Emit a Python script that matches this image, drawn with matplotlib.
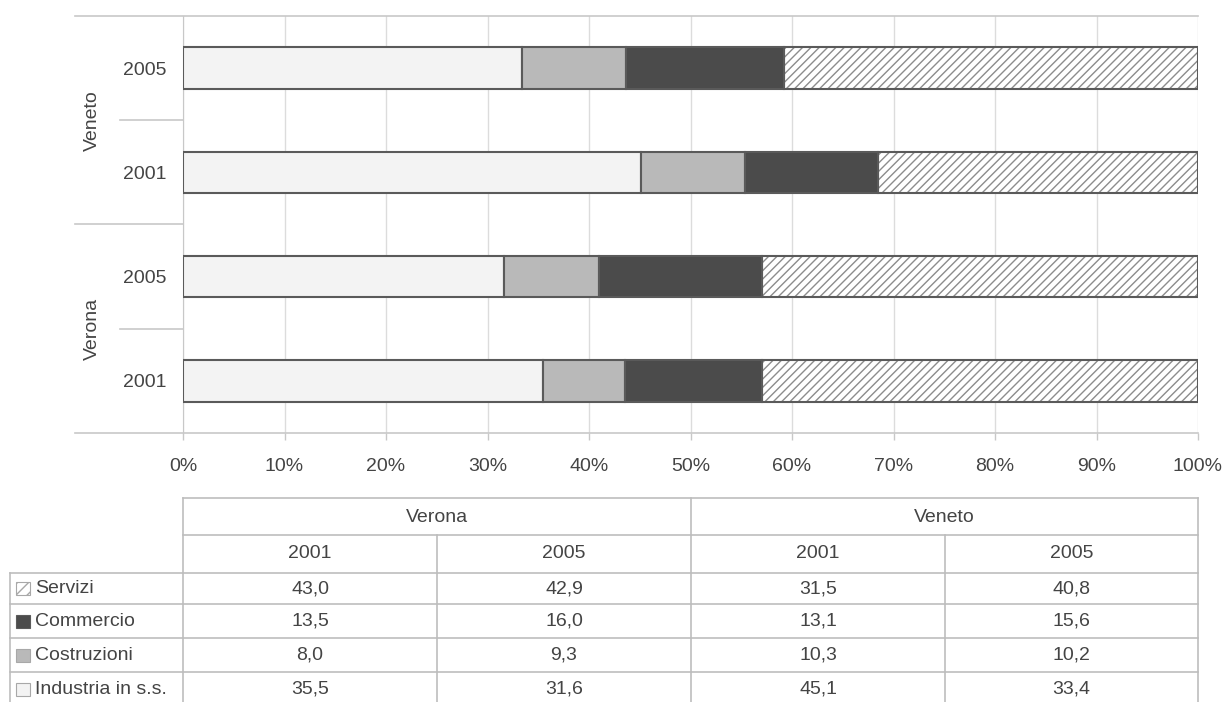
import matplotlib
matplotlib.use("Agg")
import matplotlib.pyplot as plt

plt.rcParams["font.family"] = ["Liberation Sans", "DejaVu Sans"]
plt.rcParams["hatch.linewidth"] = 1.0

W, H = 1231, 702

# bars from bottom to top
places = ["Verona", "Veneto"]
years = ["2001", "2005", "2001", "2005"]
sectors = ["Industria in s.s.", "Costruzioni", "Commercio", "Servizi"]
industria = [35.5, 31.6, 45.1, 33.4]
costruzioni = [8.0, 9.3, 10.3, 10.2]
commercio = [13.5, 16.0, 13.1, 15.6]
servizi = [43.0, 42.9, 31.5, 40.8]
x_ticks = [0, 10, 20, 30, 40, 50, 60, 70, 80, 90, 100]

series = [industria, costruzioni, commercio, servizi]
fills = ["#f3f3f3", "#b9b9b9", "#4b4b4b", "white"]
hatches = [None, None, None, "////"]
TXT = "#444444"
GRID = "#dcdcdc"
EDGE = "#5a5a5a"
FS = 14

# 100% stacked: each bar scaled to its own total
totals = [sum(col) for col in zip(*series)]
shares = [[v / t * 100 for v, t in zip(vals, totals)] for vals in series]

fig = plt.figure(figsize=(W / 100, H / 100), dpi=100)
ax = fig.add_axes([183 / W, 1 - 433 / H, (1198 - 183) / W, (433 - 16) / H])

pos = list(range(len(years)))
left = [0.0] * len(years)
for vals, fc, hatch in zip(shares, fills, hatches):
    if hatch:
        ax.barh(pos, vals, left=left, height=0.4, color=fc, edgecolor="#8c8c8c",
                hatch=hatch, linewidth=0, zorder=2)
        ax.barh(pos, vals, left=left, height=0.4, fill=False, edgecolor=EDGE,
                linewidth=1.5, zorder=3)
    else:
        ax.barh(pos, vals, left=left, height=0.4, color=fc, edgecolor=EDGE,
                linewidth=1.5, zorder=3)
    left = [a + b for a, b in zip(left, vals)]

ax.set_xlim(0, 100)
ax.set_ylim(-0.5, 3.5)
ax.set_xticks(x_ticks)
ax.set_xticklabels([f"{t}%" for t in x_ticks], color=TXT, fontsize=FS)
ax.set_yticks(pos)
ax.set_yticklabels(years, color=TXT, fontsize=FS)
ax.tick_params(axis="x", length=5, width=1, color="#c8c8c8", pad=13)
ax.tick_params(axis="y", length=0, pad=12)
ax.grid(axis="x", color=GRID, linewidth=1, zorder=0)
ax.set_axisbelow(True)
for side in ["top", "right", "bottom"]:
    ax.spines[side].set_visible(False)
ax.spines["left"].set_color("#c8c8c8")

# group separators and frame lines
ytr = ax.get_yaxis_transform()
for yv in [-0.5, 3.5]:
    ax.plot([-0.1064, 1], [yv, yv], transform=ytr, color="#c8c8c8", lw=1.2, clip_on=False)
ax.plot([-0.1064, 0], [1.5, 1.5], transform=ytr, color="#c8c8c8", lw=1.2, clip_on=False)
for yv in [0.5, 2.5]:
    ax.plot([-0.062, 0], [yv, yv], transform=ytr, color="#c8c8c8", lw=1.2, clip_on=False)
for i, place in enumerate(places):
    ax.text(-0.0897, 0.5 + 2 * i, place, transform=ytr, rotation=90, ha="center",
            va="center", color=TXT, fontsize=FS)

# data table under the chart, in pixel coordinates
tb = fig.add_axes([0, 0, 1, 1])
tb.set_xlim(0, W)
tb.set_ylim(H, 0)
tb.axis("off")
tb.patch.set_alpha(0)

LINE = "#bdbdbd"
col_x = [183, 437, 691, 945, 1198]
row_y = [573, 604, 638, 672, 706]
tb.plot([183, 1198], [498, 498], color=LINE, lw=1.2)
tb.plot([183, 1198], [535, 535], color=LINE, lw=1.2)
for yv in row_y:
    tb.plot([10, 1198], [yv, yv], color=LINE, lw=1.2)
tb.plot([10, 10], [573, 706], color=LINE, lw=1.2)
for xv in [183, 691, 1198]:
    tb.plot([xv, xv], [498, 706], color=LINE, lw=1.2)
for xv in [437, 945]:
    tb.plot([xv, xv], [535, 706], color=LINE, lw=1.2)

tb.text((183 + 691) / 2, 517, places[0], ha="center", va="center", color=TXT, fontsize=FS)
tb.text((691 + 1198) / 2, 517, places[1], ha="center", va="center", color=TXT, fontsize=FS)
col_order = [0, 1, 2, 3]
for c in col_order:
    cx = (col_x[c] + col_x[c + 1]) / 2
    tb.text(cx, 553, years[c], ha="center", va="center", color=TXT, fontsize=FS)

table_rows = list(reversed(range(len(sectors))))
for r, s in enumerate(table_rows):
    cy = (row_y[r] + row_y[r + 1]) / 2
    tb.add_patch(plt.Rectangle((16, cy - 6.5), 14, 13, facecolor=fills[s],
                               edgecolor="#a8a8a8" if s != 2 else EDGE, lw=0.8,
                               hatch="///" if hatches[s] else None))
    tb.text(35, cy, sectors[s], ha="left", va="center", color=TXT, fontsize=FS)
    for c in col_order:
        cx = (col_x[c] + col_x[c + 1]) / 2
        tb.text(cx, cy, f"{series[s][c]:.1f}".replace(".", ","), ha="center",
                va="center", color=TXT, fontsize=FS)

fig.savefig("out.png", dpi=100)
